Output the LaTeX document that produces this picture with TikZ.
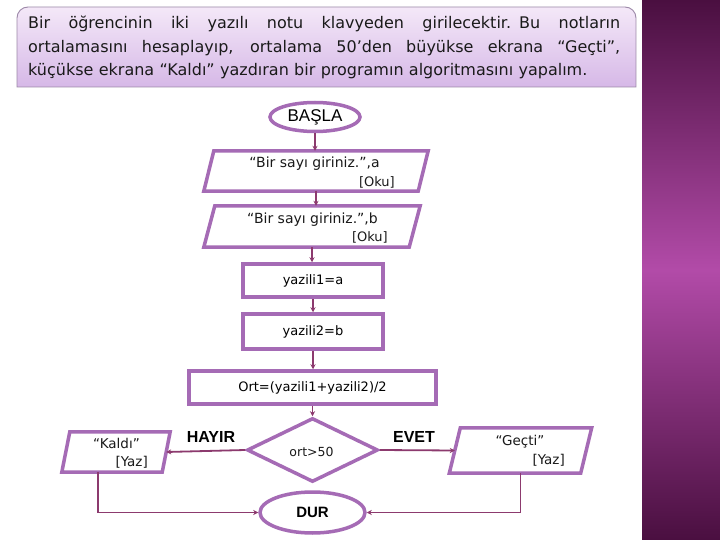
\documentclass[tikz,border=0pt]{standalone}
\usepackage{fontspec}
\setmainfont{Liberation Sans}
\newfontfamily\boxfont{DejaVu Sans}
\usetikzlibrary{arrows.meta,shapes.geometric,calc}
\definecolor{nodecol}{HTML}{A56BB5}
\definecolor{linecol}{HTML}{8C3A6E}
\definecolor{bandA}{HTML}{4A0F40}
\definecolor{bandB}{HTML}{B24BA8}
\definecolor{boxtop}{HTML}{F4E8F8}
\definecolor{boxbot}{HTML}{D6B8E7}
\definecolor{boxline}{HTML}{9C88A8}
\definecolor{txt}{HTML}{1A1A1A}
\newcommand{\drawpara}[2]{%
  \draw[shapeline,fill=white] ([xshift=#2]#1.north west) -- ([xshift=#2]#1.north east)
    -- ([xshift=-#2]#1.south east) -- ([xshift=-#2]#1.south west) -- cycle;}
\newcommand{\justline}[1]{\leavevmode\hbox to 592pt{\spaceskip=0.3em plus 1fil\relax #1}}
\begin{document}
\begin{tikzpicture}[x=1pt,y=-1pt,
  shapeline/.style={draw=nodecol,line width=3.5pt},
  procbox/.style={shapeline,fill=white,rectangle,inner sep=0pt,font=\boxfont\fontsize{13}{15}\selectfont},
  iobox/.style={rectangle,inner sep=0pt},
  termbox/.style={shapeline,fill=white,ellipse,inner sep=0pt},
  boxtext/.style={inner sep=0pt,text=txt,font=\boxfont\fontsize{13}{15}\selectfont},
  conn/.style={draw=linecol,line width=1.8pt,-{Stealth[length=5pt,width=5pt]}},
  lbl/.style={inner sep=0pt,text=black,font=\bfseries\fontsize{16}{18}\selectfont}]
\useasboundingbox (0,0) rectangle (720,540);
\fill[white] (0,0) rectangle (720,540);
% right band
\shade[top color=bandA, bottom color=bandA, middle color=bandB] (642,0) rectangle (720,540);
% top text box
\shade[top color=boxtop, bottom color=boxbot, draw=boxline, line width=0.9pt]
  (17,87) {[rounded corners=11pt] -- (17,7) -- (636,7)} -- (636,87) -- cycle;
\node[anchor=north west, inner sep=0pt, text width=592pt, align=left, text=txt,
  font=\boxfont\fontsize{16}{23.5}\selectfont] (task) at (28,16) {%
  \justline{Bir öğrencinin iki yazılı notu klavyeden girilecektir. Bu notların}\\
  \justline{ortalamasını hesaplayıp, ortalama 50’den büyükse ekrana “Geçti”,}\\
  küçükse ekrana “Kaldı” yazdıran bir programın algoritmasını yapalım.};
% flowchart nodes
\node[termbox, minimum width=90pt, minimum height=29pt, font=\fontsize{17}{19}\selectfont] (start) at (315,117) {BAŞLA};

\node[iobox, minimum width=214pt, minimum height=40pt] (p1) at (316,171) {};
\drawpara{p1}{5pt}
\node[boxtext, font=\boxfont\fontsize{14}{16}\selectfont] (p1t) at (314.5,164) {“Bir sayı giriniz.”,a};
\node[boxtext, anchor=east] (p1o) at (395,182) {[Oku]};

\node[iobox, minimum width=205pt, minimum height=41pt] (p2) at (312,226.5) {};
\drawpara{p2}{5.5pt}
\node[boxtext, font=\boxfont\fontsize{14}{16}\selectfont] (p2t) at (312.5,220) {“Bir sayı giriniz.”,b};
\node[boxtext, anchor=east] (p2o) at (388,237) {[Oku]};

\node[procbox, minimum width=140pt, minimum height=33pt] (r1) at (313,280.5) {yazili1=a};
\node[procbox, minimum width=140pt, minimum height=35pt] (r2) at (313,331.5) {yazili2=b};
\node[procbox, minimum width=247pt, minimum height=33pt] (ort) at (312.5,387.5) {Ort=(yazili1+yazili2)/2};

\node[shapeline, fill=white, diamond, minimum width=131pt, minimum height=64pt, inner sep=0pt] (dia) at (312.5,450) {};
\node[boxtext, font=\boxfont\fontsize{12.5}{14}\selectfont] (diat) at (311.5,452) {ort>50};

\node[iobox, minimum width=100pt, minimum height=40pt] (kaldi) at (116,452) {};
\drawpara{kaldi}{4pt}
\node[boxtext, font=\boxfont\fontsize{13.5}{15}\selectfont] (kaldit) at (116.5,443) {“Kaldı”};
\node[boxtext, font=\boxfont\fontsize{13.5}{15}\selectfont, anchor=east] (kaldiy) at (148,462) {[Yaz]};

\node[iobox, minimum width=131pt, minimum height=45pt] (gecti) at (520.5,450.5) {};
\drawpara{gecti}{5.5pt}
\node[boxtext, font=\boxfont\fontsize{13.5}{15}\selectfont] (gectit) at (520,442) {“Geçti”};
\node[boxtext, font=\boxfont\fontsize{13.5}{15}\selectfont, anchor=east] (gectiy) at (565,460) {[Yaz]};

\node[termbox, minimum width=105pt, minimum height=41pt, font=\bfseries\fontsize{15}{17}\selectfont] (dur) at (312.5,512.5) {DUR};

\node[lbl] (hayir) at (211,437) {HAYIR};
\node[lbl] (evet) at (414,437) {EVET};

% connectors
\draw[conn] (start.south) -- (start.south |- p1.north);
\draw[conn] (p1.south) -- (p1.south |- p2.north);
\draw[conn] (p2.south) -- (p2.south |- r1.north);
\draw[conn] (r1.south) -- (r2.north);
\draw[conn] (r2.south) -- (r2.south |- ort.north);
\draw[conn] (ort.south) -- (dia.north);
\draw[conn] (dia.west) -- (kaldi.east);
\draw[conn] (dia.east) -- (gecti.west);
\draw[conn] ([xshift=-18pt]kaldi.south) |- (dur.west);
\draw[conn] (gecti.south) |- (dur.east);
\end{tikzpicture}
\end{document}
